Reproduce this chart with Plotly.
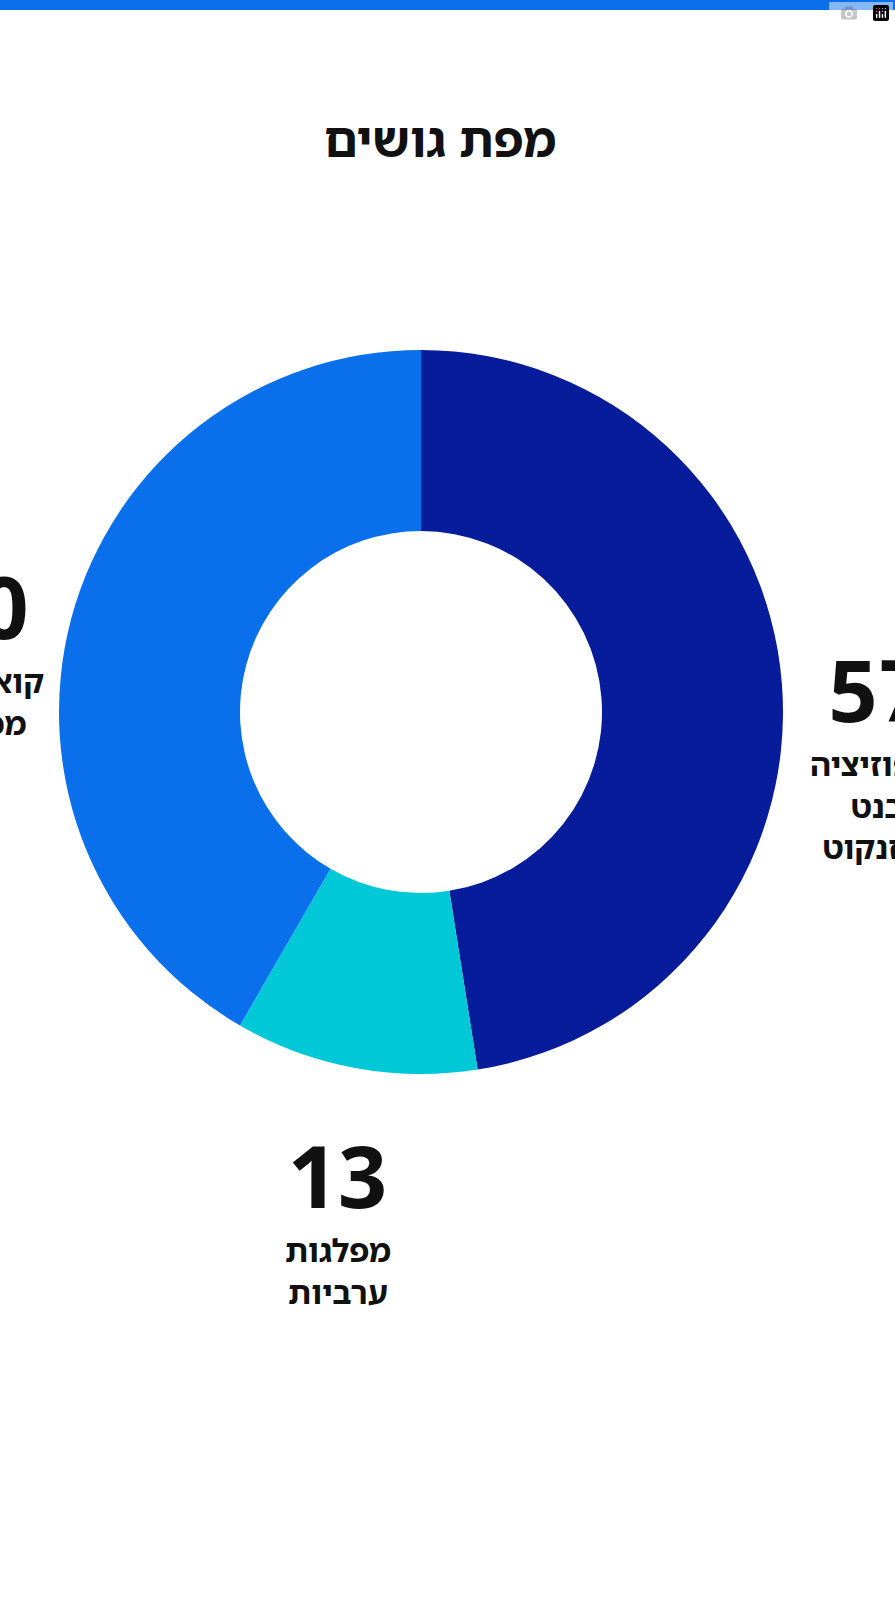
import math
import plotly.graph_objects as go

labels = ["אופוזיציה<br>בנט<br>איזנקוט", "מפלגות<br>ערביות", "קואליציה<br>מכהנת"]
values = [57, 13, 50]
colors = ["#061c9a", "#00c8d7", "#0a6fea"]
title = "מפת גושים"

W, H = 895, 1599
cx, cy, R = 421, 712, 362
FONT = "Noto Sans Hebrew, DejaVu Sans, sans-serif"

fig = go.Figure(go.Pie(
    values=values, labels=labels, marker=dict(colors=colors, line=dict(width=0)),
    hole=0.5, sort=False, direction="clockwise", rotation=0,
    textinfo="none", hoverinfo="skip", showlegend=False,
    domain=dict(x=[(cx - R) / W, (cx + R) / W], y=[1 - (cy + R) / H, 1 - (cy - R) / H]),
))

anns = [dict(text="<b>%s</b>" % title, x=440 / W, y=1 - 138 / H, xref="paper", yref="paper",
             showarrow=False, yanchor="middle", font=dict(size=48, color="#111", family=FONT))]
total = sum(values)
start = 0.0
for lab, v in zip(labels, values):
    mid = (start + v / 2) / total * 2 * math.pi
    start += v
    px = cx + 458 * math.sin(mid)
    py = cy - 458 * math.cos(mid) + 12
    anns.append(dict(text="<b>%d</b>" % v, x=px / W, y=1 - py / H, xref="paper", yref="paper",
                     showarrow=False, xanchor="center", yanchor="middle",
                     font=dict(size=86, color="#111", family=FONT)))
    anns.append(dict(text="<b>%s</b>" % lab, x=px / W, y=1 - (py + 52) / H, xref="paper", yref="paper",
                     showarrow=False, xanchor="center", yanchor="top", align="center",
                     font=dict(size=32, color="#111", family=FONT)))

fig.update_layout(
    width=W, height=H, margin=dict(l=0, r=0, t=0, b=0),
    paper_bgcolor="white", plot_bgcolor="white", annotations=anns,
    shapes=[dict(type="rect", xref="paper", yref="paper", x0=0, x1=1, y0=1 - 10 / H, y1=1,
                 fillcolor="#0a6fea", line=dict(width=0))],
)
fig.write_html("out.html")
with open("out.html", encoding="utf-8") as f:
    html = f.read()
html = html.replace("<body>", '<body style="margin:0;overflow:hidden">', 1)
with open("out.html", "w", encoding="utf-8") as f:
    f.write(html)
